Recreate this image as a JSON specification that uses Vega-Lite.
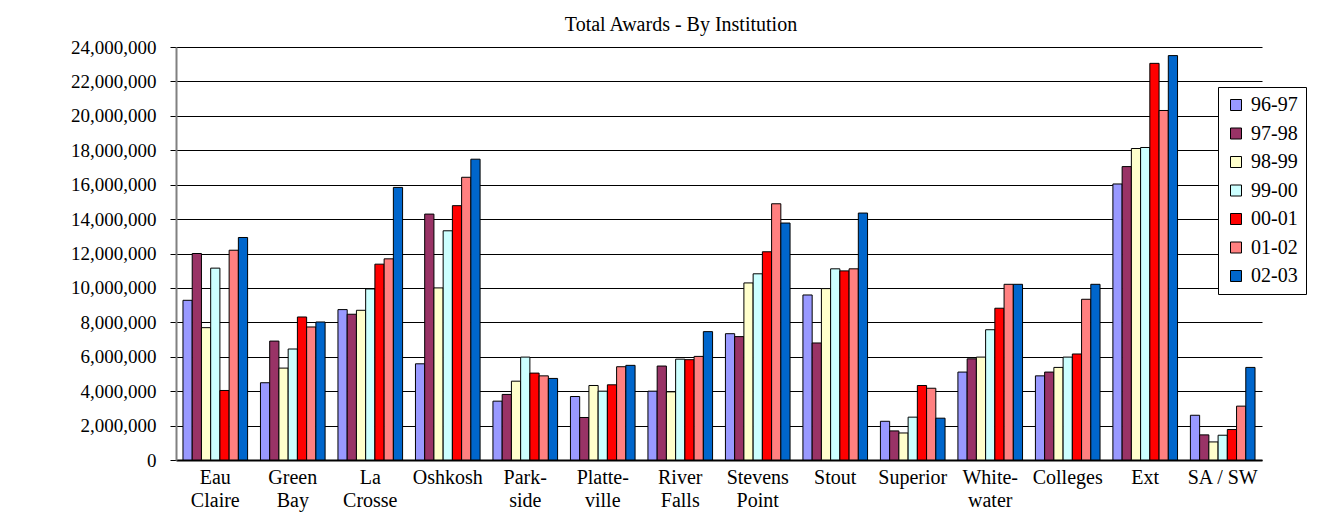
{
  "$schema": "https://vega.github.io/schema/vega-lite/v6.json",
  "autosize": {"type": "none"},
  "width": 1086,
  "height": 413,
  "padding": {"left": 176, "top": 47, "right": 61, "bottom": 69},
  "background": "white",
  "title": {
    "text": "Total Awards - By Institution",
    "frame": "group",
    "anchor": "middle",
    "dx": -38,
    "offset": 3,
    "font": "Liberation Serif",
    "fontSize": 20,
    "fontWeight": "normal",
    "color": "black"
  },
  "config": {
    "view": {"stroke": null},
    "font": "Liberation Serif"
  },
  "data": {
    "values": [
      {"inst": "Eau Claire", "year": "96-97", "amount": 9280000},
      {"inst": "Eau Claire", "year": "97-98", "amount": 12000000},
      {"inst": "Eau Claire", "year": "98-99", "amount": 7690000},
      {"inst": "Eau Claire", "year": "99-00", "amount": 11150000},
      {"inst": "Eau Claire", "year": "00-01", "amount": 4040000},
      {"inst": "Eau Claire", "year": "01-02", "amount": 12190000},
      {"inst": "Eau Claire", "year": "02-03", "amount": 12930000},
      {"inst": "Green Bay", "year": "96-97", "amount": 4490000},
      {"inst": "Green Bay", "year": "97-98", "amount": 6910000},
      {"inst": "Green Bay", "year": "98-99", "amount": 5340000},
      {"inst": "Green Bay", "year": "99-00", "amount": 6450000},
      {"inst": "Green Bay", "year": "00-01", "amount": 8310000},
      {"inst": "Green Bay", "year": "01-02", "amount": 7730000},
      {"inst": "Green Bay", "year": "02-03", "amount": 8020000},
      {"inst": "La Crosse", "year": "96-97", "amount": 8740000},
      {"inst": "La Crosse", "year": "97-98", "amount": 8470000},
      {"inst": "La Crosse", "year": "98-99", "amount": 8700000},
      {"inst": "La Crosse", "year": "99-00", "amount": 9940000},
      {"inst": "La Crosse", "year": "00-01", "amount": 11380000},
      {"inst": "La Crosse", "year": "01-02", "amount": 11690000},
      {"inst": "La Crosse", "year": "02-03", "amount": 15840000},
      {"inst": "Oshkosh", "year": "96-97", "amount": 5590000},
      {"inst": "Oshkosh", "year": "97-98", "amount": 14290000},
      {"inst": "Oshkosh", "year": "98-99", "amount": 10000000},
      {"inst": "Oshkosh", "year": "99-00", "amount": 13320000},
      {"inst": "Oshkosh", "year": "00-01", "amount": 14780000},
      {"inst": "Oshkosh", "year": "01-02", "amount": 16430000},
      {"inst": "Oshkosh", "year": "02-03", "amount": 17480000},
      {"inst": "Park-side", "year": "96-97", "amount": 3420000},
      {"inst": "Park-side", "year": "97-98", "amount": 3810000},
      {"inst": "Park-side", "year": "98-99", "amount": 4580000},
      {"inst": "Park-side", "year": "99-00", "amount": 5980000},
      {"inst": "Park-side", "year": "00-01", "amount": 5050000},
      {"inst": "Park-side", "year": "01-02", "amount": 4890000},
      {"inst": "Park-side", "year": "02-03", "amount": 4740000},
      {"inst": "Platte-ville", "year": "96-97", "amount": 3690000},
      {"inst": "Platte-ville", "year": "97-98", "amount": 2470000},
      {"inst": "Platte-ville", "year": "98-99", "amount": 4330000},
      {"inst": "Platte-ville", "year": "99-00", "amount": 4000000},
      {"inst": "Platte-ville", "year": "00-01", "amount": 4370000},
      {"inst": "Platte-ville", "year": "01-02", "amount": 5420000},
      {"inst": "Platte-ville", "year": "02-03", "amount": 5500000},
      {"inst": "River Falls", "year": "96-97", "amount": 4000000},
      {"inst": "River Falls", "year": "97-98", "amount": 5460000},
      {"inst": "River Falls", "year": "98-99", "amount": 3960000},
      {"inst": "River Falls", "year": "99-00", "amount": 5860000},
      {"inst": "River Falls", "year": "00-01", "amount": 5830000},
      {"inst": "River Falls", "year": "01-02", "amount": 6020000},
      {"inst": "River Falls", "year": "02-03", "amount": 7460000},
      {"inst": "Stevens Point", "year": "96-97", "amount": 7340000},
      {"inst": "Stevens Point", "year": "97-98", "amount": 7170000},
      {"inst": "Stevens Point", "year": "98-99", "amount": 10290000},
      {"inst": "Stevens Point", "year": "99-00", "amount": 10820000},
      {"inst": "Stevens Point", "year": "00-01", "amount": 12100000},
      {"inst": "Stevens Point", "year": "01-02", "amount": 14890000},
      {"inst": "Stevens Point", "year": "02-03", "amount": 13770000},
      {"inst": "Stout", "year": "96-97", "amount": 9590000},
      {"inst": "Stout", "year": "97-98", "amount": 6800000},
      {"inst": "Stout", "year": "98-99", "amount": 9960000},
      {"inst": "Stout", "year": "99-00", "amount": 11110000},
      {"inst": "Stout", "year": "00-01", "amount": 10990000},
      {"inst": "Stout", "year": "01-02", "amount": 11110000},
      {"inst": "Stout", "year": "02-03", "amount": 14350000},
      {"inst": "Superior", "year": "96-97", "amount": 2250000},
      {"inst": "Superior", "year": "97-98", "amount": 1690000},
      {"inst": "Superior", "year": "98-99", "amount": 1570000},
      {"inst": "Superior", "year": "99-00", "amount": 2490000},
      {"inst": "Superior", "year": "00-01", "amount": 4330000},
      {"inst": "Superior", "year": "01-02", "amount": 4170000},
      {"inst": "Superior", "year": "02-03", "amount": 2430000},
      {"inst": "White-water", "year": "96-97", "amount": 5110000},
      {"inst": "White-water", "year": "97-98", "amount": 5880000},
      {"inst": "White-water", "year": "98-99", "amount": 5980000},
      {"inst": "White-water", "year": "99-00", "amount": 7570000},
      {"inst": "White-water", "year": "00-01", "amount": 8820000},
      {"inst": "White-water", "year": "01-02", "amount": 10210000},
      {"inst": "White-water", "year": "02-03", "amount": 10210000},
      {"inst": "Colleges", "year": "96-97", "amount": 4890000},
      {"inst": "Colleges", "year": "97-98", "amount": 5110000},
      {"inst": "Colleges", "year": "98-99", "amount": 5380000},
      {"inst": "Colleges", "year": "99-00", "amount": 5980000},
      {"inst": "Colleges", "year": "00-01", "amount": 6160000},
      {"inst": "Colleges", "year": "01-02", "amount": 9340000},
      {"inst": "Colleges", "year": "02-03", "amount": 10210000},
      {"inst": "Ext", "year": "96-97", "amount": 16040000},
      {"inst": "Ext", "year": "97-98", "amount": 17050000},
      {"inst": "Ext", "year": "98-99", "amount": 18100000},
      {"inst": "Ext", "year": "99-00", "amount": 18160000},
      {"inst": "Ext", "year": "00-01", "amount": 23050000},
      {"inst": "Ext", "year": "01-02", "amount": 20310000},
      {"inst": "Ext", "year": "02-03", "amount": 23500000},
      {"inst": "SA / SW", "year": "96-97", "amount": 2600000},
      {"inst": "SA / SW", "year": "97-98", "amount": 1460000},
      {"inst": "SA / SW", "year": "98-99", "amount": 1050000},
      {"inst": "SA / SW", "year": "99-00", "amount": 1440000},
      {"inst": "SA / SW", "year": "00-01", "amount": 1770000},
      {"inst": "SA / SW", "year": "01-02", "amount": 3130000},
      {"inst": "SA / SW", "year": "02-03", "amount": 5380000}
    ]
  },
  "mark": {"type": "bar", "stroke": "black", "strokeWidth": 1},
  "encoding": {
    "x": {
      "field": "inst",
      "type": "nominal",
      "sort": null,
      "title": null,
      "scale": {"paddingInner": 0.166, "paddingOuter": 0.09},
      "axis": {
        "labelAngle": 0,
        "ticks": false,
        "domain": true,
        "domainColor": "black",
        "domainWidth": 2,
        "labelFont": "Liberation Serif",
        "labelFontSize": 20,
        "labelColor": "black",
        "labelPadding": 7,
        "labelLineHeight": 23,
        "labelBaseline": "top",
        "labelExpr": "indexof(datum.label, '/') >= 0 ? datum.label : split(replace(replace(datum.label, ' ', '|'), '-', '-|'), '|')"
      }
    },
    "xOffset": {
      "field": "year",
      "type": "nominal",
      "sort": ["96-97", "97-98", "98-99", "99-00", "00-01", "01-02", "02-03"],
      "scale": {"paddingInner": 0, "paddingOuter": 0}
    },
    "y": {
      "field": "amount",
      "type": "quantitative",
      "title": null,
      "scale": {"domain": [0, 24000000], "nice": false},
      "axis": {
        "values": [0, 2000000, 4000000, 6000000, 8000000, 10000000, 12000000, 14000000, 16000000, 18000000, 20000000, 22000000, 24000000],
        "format": ",d",
        "grid": true,
        "gridColor": "black",
        "gridWidth": 1,
        "domain": true,
        "domainColor": "#808080",
        "domainWidth": 2,
        "ticks": true,
        "tickColor": "black",
        "tickSize": 6,
        "labelFont": "Liberation Serif",
        "labelFontSize": 19,
        "labelColor": "black",
        "labelPadding": 14
      }
    },
    "color": {
      "field": "year",
      "type": "nominal",
      "title": null,
      "scale": {
        "domain": ["96-97", "97-98", "98-99", "99-00", "00-01", "01-02", "02-03"],
        "range": ["#9999FF", "#993366", "#FFFFCC", "#CCFFFF", "#FF0000", "#FF8080", "#0066CC"]
      },
      "legend": {
        "orient": "none",
        "legendX": 1042,
        "legendY": 40,
        "fillColor": "white",
        "strokeColor": "black",
        "padding": 8,
        "rowPadding": 8.5,
        "symbolType": "square",
        "symbolSize": 121,
        "symbolStrokeColor": "black",
        "symbolStrokeWidth": 1,
        "symbolOpacity": 1,
        "labelFont": "Liberation Serif",
        "labelFontSize": 20,
        "labelColor": "black",
        "labelOffset": 5
      }
    }
  }
}
